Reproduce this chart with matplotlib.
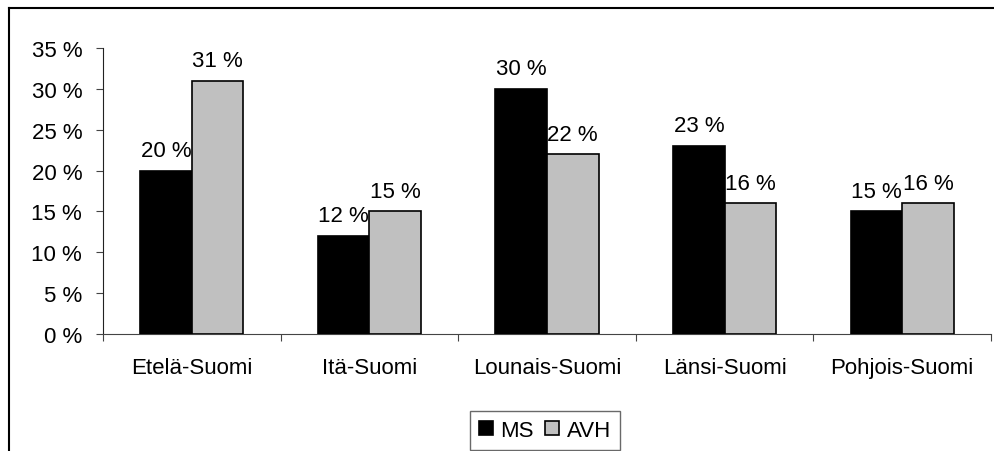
import matplotlib
matplotlib.use("Agg")
import matplotlib.pyplot as plt
import numpy as np
from matplotlib.lines import Line2D

plt.rcParams['font.family'] = ['Liberation Sans', 'DejaVu Sans']

regions = ["Etelä-Suomi", "Itä-Suomi", "Lounais-Suomi", "Länsi-Suomi", "Pohjois-Suomi"]
ms = [20, 12, 30, 23, 15]
avh = [31, 15, 22, 16, 16]
series_names = ["MS", "AVH"]
yticks = [0, 5, 10, 15, 20, 25, 30, 35]

FS = 16

fig = plt.figure(figsize=(9.95, 4.52), dpi=100)
ax = fig.add_axes([103/995, 1-335/452, (991-103)/995, (335-49)/452])

x = np.arange(len(regions))
w = 0.29
b1 = ax.bar(x - w/2, ms, w, color='black', edgecolor='black', linewidth=1.2, zorder=3)
b2 = ax.bar(x + w/2, avh, w, color='#c0c0c0', edgecolor='black', linewidth=1.2, zorder=3)

for bars, vals in ((b1, ms), (b2, avh)):
    for r, v in zip(bars, vals):
        ax.annotate(f"{v} %", (r.get_x() + r.get_width()/2, v), xytext=(0, 7),
                    textcoords='offset points', ha='center', va='bottom', fontsize=FS)

ax.set_xlim(-0.5, len(regions) - 0.5)
ax.set_ylim(0, 35)
ax.set_yticks(yticks)
ax.set_yticklabels([f"{t} %" for t in yticks], fontsize=FS)
ax.set_xticks(np.arange(len(regions) + 1) - 0.5)
ax.set_xticklabels([])
ax.set_xticks(x, minor=True)
ax.set_xticklabels(regions, minor=True, fontsize=FS)
ax.tick_params(axis='x', which='minor', length=0, pad=16.5)
ax.tick_params(axis='x', which='major', length=5, direction='out', color='#444444')
ax.tick_params(axis='y', length=5, direction='out', color='#444444', pad=10)
for s in ['top', 'right']:
    ax.spines[s].set_visible(False)
ax.spines['left'].set_color('#222222')
ax.spines['bottom'].set_color('#444444')

# outer frame (only left and top visible)
fig.add_artist(Line2D([9/995, 9/995], [1-9/452, 0], transform=fig.transFigure, color='black', lw=1.5))
fig.add_artist(Line2D([9/995, 1], [1-9/452, 1-9/452], transform=fig.transFigure, color='black', lw=1.5))

leg = fig.legend([b1, b2], series_names, loc='upper center', bbox_to_anchor=(545/995, 1-412/452),
                 ncol=2, fontsize=FS, frameon=True, fancybox=False, edgecolor='#444444',
                 handlelength=0.63, handleheight=0.63, handletextpad=0.35, columnspacing=0.5,
                 borderpad=0.4, borderaxespad=0)
leg.get_frame().set_linewidth(1.0)

fig.savefig("out.png", dpi=100)
